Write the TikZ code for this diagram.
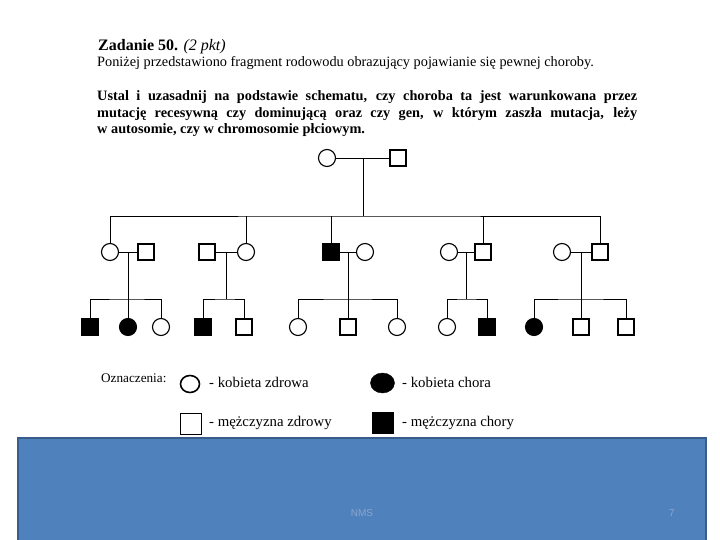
\documentclass[tikz,border=0pt]{standalone}
\usepackage{fontspec}
\setmainfont{Liberation Serif}
\newfontfamily\footfont{Liberation Sans}
\usetikzlibrary{shapes.geometric}
\definecolor{slideblue}{RGB}{79,129,189}
\definecolor{slideedge}{RGB}{56,93,138}
\definecolor{slidetext}{RGB}{140,165,205}
\tikzset{
  fem/.style={circle, draw, line width=1.1pt, minimum size=17pt, inner sep=0pt},
  mal/.style={rectangle, draw, line width=1.1pt, minimum size=16pt, inner sep=0pt},
  ill/.style={fill=black},
  tie/.style={line width=0.7pt},
  tasktext/.style={anchor=base west, inner sep=0pt, font=\fontsize{14.3}{16.5}\selectfont\bfseries},
  keytext/.style={anchor=base west, inner sep=0pt, font=\fontsize{14.8}{16}\selectfont}
}
\begin{document}
\begin{tikzpicture}[x=1pt, y=-1pt]
\useasboundingbox (0,0) rectangle (720,540);

% task text
\node[anchor=base west, inner sep=0pt, font=\fontsize{16}{18}\selectfont\bfseries] (title) at (98,50.5) {Zadanie 50. \mdseries\itshape(2 pkt)};
\node[anchor=base west, inner sep=0pt, font=\fontsize{14.3}{16}\selectfont] (intro) at (97,66.5) {Poniżej przedstawiono fragment rodowodu obrazujący pojawianie się pewnej choroby.};
\node[tasktext] (task1) at (97,101) {\hbox to 540pt{Ustal i uzasadnij na podstawie schematu, czy choroba ta jest warunkowana przez}};
\node[tasktext] (task2) at (97,118) {\hbox to 540pt{mutację recesywną czy dominującą oraz czy gen, w którym zaszła mutacja, leży}};
\node[tasktext] (task3) at (97,134) {w autosomie, czy w chromosomie płciowym.};

% generation I
\node[fem] (p1) at (327,158) {};
\node[mal] (p2) at (398,158) {};
\draw[tie] (p1) -- (p2);
\coordinate (s0) at (363,216);
\draw[tie] (s0 |- p1) -- (s0);

% generation II
\node[fem] (a1) at (110,252) {};
\node[mal] (a2) at (146,252) {};
\node[mal] (b1) at (207,252) {};
\node[fem] (b2) at (246,252) {};
\node[mal, ill] (c1) at (331,252) {};
\node[fem] (c2) at (365,252) {};
\node[fem] (d1) at (449,252) {};
\node[mal] (d2) at (483,252) {};
\node[fem] (e1) at (562,252) {};
\node[mal] (e2) at (600,252) {};
\draw[tie] (a1.north) |- (s0) -| (e2.north);
\draw[tie] (b2.north) -- (b2 |- s0);
\draw[tie] (c1.north) -- (c1 |- s0);
\draw[tie] (d2.north) -- (d2 |- s0);
\foreach \f/\m in {a1/a2, b1/b2, c1/c2, d1/d2, e1/e2}
  \draw[tie] (\f) -- (\m);

% generation III
\node[mal, ill] (a11) at (90,327) {};
\node[fem, ill] (a12) at (128,327) {};
\node[fem] (a13) at (161,327) {};
\node[mal, ill] (b11) at (203,327) {};
\node[mal] (b12) at (244,327) {};
\node[fem] (c11) at (298,327) {};
\node[mal] (c12) at (348,327) {};
\node[fem] (c13) at (397,327) {};
\node[fem] (d11) at (447,327) {};
\node[mal, ill] (d12) at (487,327) {};
\node[fem, ill] (e11) at (534,327) {};
\node[mal] (e12) at (581,327) {};
\node[mal] (e13) at (626,327) {};

\coordinate (s1) at (128,299);
\coordinate (s2) at (226,299);
\coordinate (s3) at (348,299);
\coordinate (s4) at (466,299);
\coordinate (s5) at (581,299);
\draw[tie] (s1 |- a1) -- (a12.north);
\draw[tie] (a11.north) |- (s1) -| (a13.north);
\draw[tie] (s2 |- b1) -- (s2);
\draw[tie] (b11.north) |- (s2) -| (b12.north);
\draw[tie] (s3 |- c1) -- (c12.north);
\draw[tie] (c11.north) |- (s3) -| (c13.north);
\draw[tie] (s4 |- d1) -- (s4);
\draw[tie] (d11.north) |- (s4) -| (d12.north);
\draw[tie] (s5 |- e1) -- (e12.north);
\draw[tie] (e11.north) |- (s5) -| (e13.north);

% key
\node[anchor=base west, inner sep=0pt, font=\fontsize{13.2}{15}\selectfont] (keyhead) at (101,382.5) {Oznaczenia:};
\node[ellipse, draw, line width=1.6pt, minimum width=19pt, minimum height=17pt, inner sep=0pt] (k1) at (190,384) {};
\node[keytext] (k1t) at (209,387) {- kobieta zdrowa};
\node[ellipse, draw, fill=black, minimum width=24pt, minimum height=20pt, inner sep=0pt] (k2) at (382.5,383) {};
\node[keytext] (k2t) at (402,387) {- kobieta chora};
\node[rectangle, draw, line width=1.2pt, minimum size=21pt, inner sep=0pt] (k3) at (191,424) {};
\node[keytext] (k3t) at (209,426) {- mężczyzna zdrowy};
\node[rectangle, fill=black, minimum size=22pt, inner sep=0pt] (k4) at (383,423) {};
\node[keytext] (k4t) at (402,426) {- mężczyzna chory};

% slide footer
\fill[slideblue, draw=slideedge, line width=1.5pt] (18,438) rectangle (706,548);
\node[text=slidetext, font=\footfont\fontsize{10}{12}\selectfont] (nms) at (362,513) {NMS};
\node[text=slidetext, font=\footfont\fontsize{10}{12}\selectfont] (page) at (672,513) {7};
\end{tikzpicture}
\end{document}
